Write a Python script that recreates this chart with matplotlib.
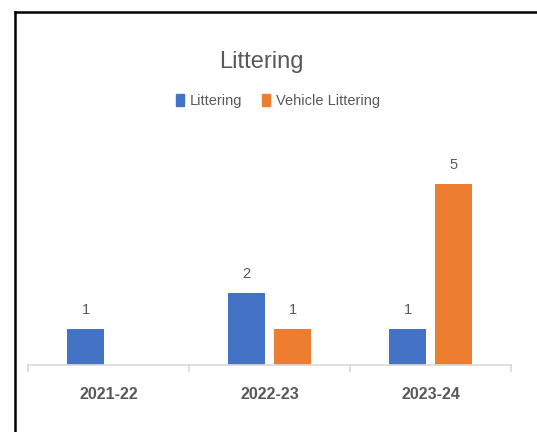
import numpy as np
import matplotlib
matplotlib.use("Agg")
import matplotlib.pyplot as plt
from matplotlib.lines import Line2D

# data
years = ["2021-22", "2022-23", "2023-24"]
littering = [1, 2, 1]
vehicle_littering = [0, 1, 5]

plt.rcParams['font.family'] = ['Liberation Sans', 'DejaVu Sans']
grey = "#595959"

W, H = 537, 432
fig = plt.figure(figsize=(W / 100, H / 100), dpi=100)

# plot area in pixels: x 28..511, baseline at y=365, 6 units tall
ax = fig.add_axes([28 / W, (H - 365) / H, 483 / W, 217 / H])

x = np.arange(len(years))
bw = 0.224
off = 0.143
b1 = ax.bar(x - off, littering, bw, color="#4472C4")
b2 = ax.bar(x + off, vehicle_littering, bw, color="#ED7D31")

for rects, vals in ((b1, littering), (b2, vehicle_littering)):
	for r, v in zip(rects, vals):
		if v == 0:
			continue  # no label for empty bar
		ax.text(r.get_x() + r.get_width() / 2, v + 0.33, str(v), ha="center", va="bottom",
				fontsize=10.5, color=grey)

ax.set_xlim(-0.5, len(years) - 0.5)
ax.set_ylim(0, 6)
ax.set_yticks([])
ax.set_xticks(x)
ax.set_xticklabels(years, fontsize=11.5, fontweight="bold", color=grey)
ax.tick_params(axis="x", length=0, pad=16)
# category boundary ticks
for b in np.arange(-0.5, len(years), 1.0):
	ax.plot([b, b], [0, -0.17], color="#D9D9D9", lw=1.2, clip_on=False)
for s in ("top", "right", "left"):
	ax.spines[s].set_visible(False)
ax.spines["bottom"].set_color("#D9D9D9")
ax.spines["bottom"].set_linewidth(1.2)

fig.text(261 / W, 1 - 62 / H, "Littering", ha="center", va="center", fontsize=17, color=grey)

handles = [plt.Rectangle((0, 0), 1, 1, color="#4472C4"), plt.Rectangle((0, 0), 1, 1, color="#ED7D31")]
fig.legend(handles, ["Littering", "Vehicle Littering"], loc="center", bbox_to_anchor=(278 / W, 1 - 101 / H),
		   ncol=2, frameon=False, fontsize=10.5, labelcolor=grey, handlelength=0.55, handleheight=0.8,
		   handletextpad=0.4, columnspacing=1.3)

# outer frame (left and top edges only visible)
fig.add_artist(Line2D([15 / W, 15 / W], [0, 1 - 12 / H], color="black", lw=1.8))
fig.add_artist(Line2D([15 / W, 1], [1 - 12 / H, 1 - 12 / H], color="black", lw=1.8))

fig.savefig("out.png", dpi=100)
